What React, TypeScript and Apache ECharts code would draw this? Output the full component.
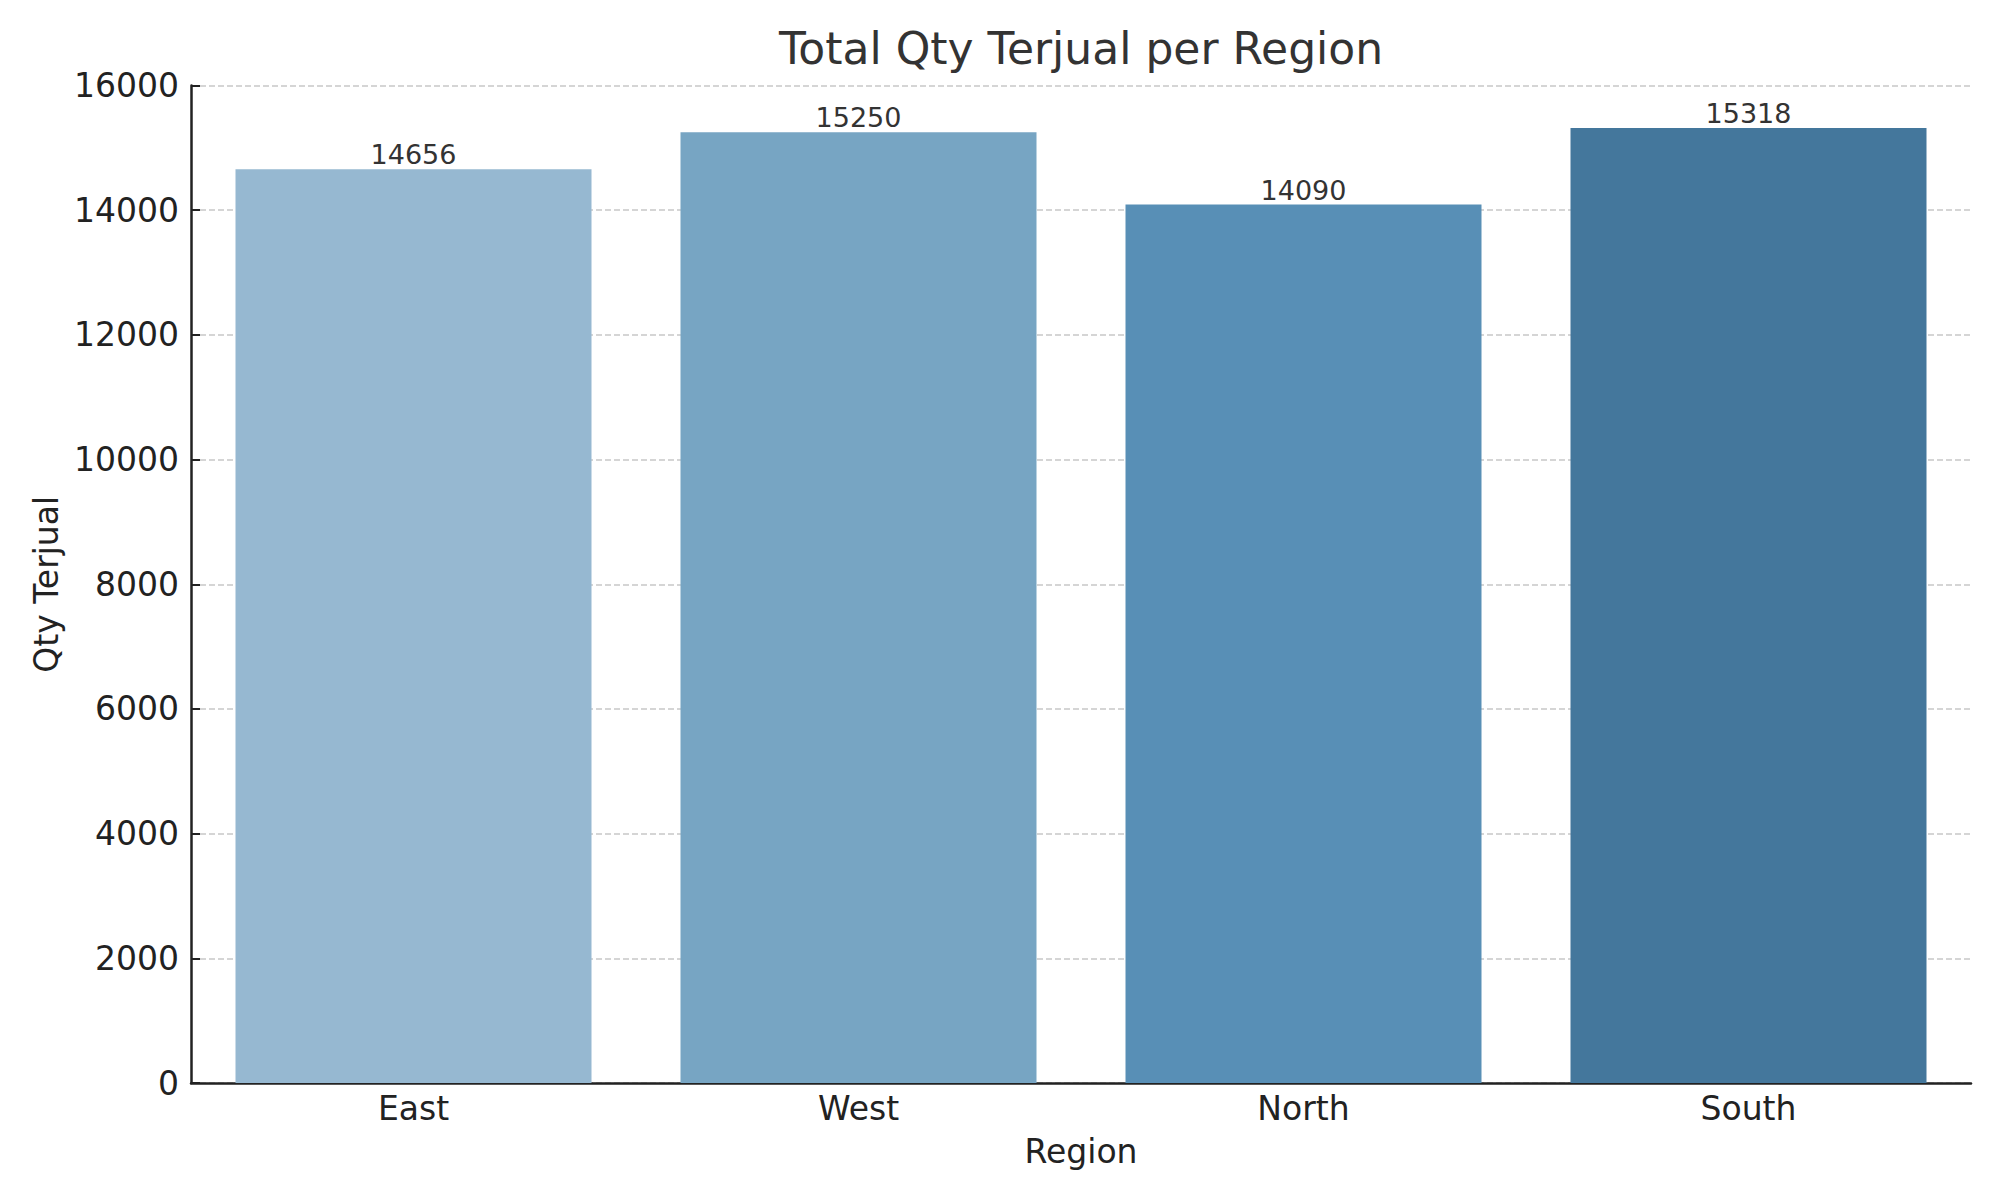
import React, { useEffect, useRef } from "react";
import * as echarts from "echarts";

const categories = ["East", "West", "North", "South"];
const qtyValues = [14656, 15250, 14090, 15318];
const barColors = ["#96b8d1", "#77a5c3", "#588fb6", "#44779c"];
const yTicks = { min: 0, max: 16000, interval: 2000 };

export default function App() {
  const ref = useRef<HTMLDivElement>(null);
  useEffect(() => {
    document.body.style.margin = "0";
    if (!ref.current) return;
    const chart = echarts.init(ref.current, null, { renderer: "svg" });
    const font = "DejaVu Sans";
    chart.setOption({
      animation: false,
      backgroundColor: "#ffffff",
      textStyle: { fontFamily: font },
      title: {
        text: "Total Qty Terjual per Region",
        left: 1081,
        top: 26,
        padding: 0,
        textAlign: "center",
        textStyle: { fontFamily: font, fontSize: 44, fontWeight: "normal", color: "#333333" },
      },
      grid: { left: 191, right: 29, top: 85.5, bottom: 117, containLabel: false },
      xAxis: {
        type: "category",
        data: categories,
        name: "Region",
        nameLocation: "middle",
        nameGap: 52,
        nameTextStyle: { fontFamily: font, fontSize: 33, color: "#222222" },
        axisLine: { show: true, lineStyle: { color: "#222222", width: 2.5 } },
        axisTick: { show: true, inside: true, alignWithLabel: true, length: 9, lineStyle: { color: "#222222", width: 2 } },
        axisLabel: { fontFamily: font, fontSize: 33, color: "#222222", margin: 9 },
        splitLine: { show: false },
      },
      yAxis: {
        type: "value",
        min: yTicks.min,
        max: yTicks.max,
        interval: yTicks.interval,
        name: "Qty Terjual",
        nameLocation: "middle",
        nameGap: 124,
        nameRotate: 90,
        nameTextStyle: { fontFamily: font, fontSize: 33, color: "#222222" },
        axisLine: { show: true, lineStyle: { color: "#222222", width: 2.5 } },
        axisTick: { show: true, inside: true, length: 9, lineStyle: { color: "#222222", width: 2 } },
        axisLabel: { fontFamily: font, fontSize: 33, color: "#222222", margin: 12, formatter: (v: number) => String(v) },
        splitLine: { show: true, lineStyle: { color: "#c8c8c8", width: 1.5, type: [6, 3] } },
      },
      series: [
        {
          type: "bar",
          barCategoryGap: "20%",
          data: qtyValues.map((v, i) => ({ value: v, itemStyle: { color: barColors[i] } })),
          label: {
            show: true,
            position: "top",
            distance: 1,
            fontFamily: font,
            fontSize: 27,
            color: "#333333",
          },
          z: 1,
        },
      ],
    });
    return () => chart.dispose();
  }, []);
  return <div ref={ref} style={{ width: 2000, height: 1200 }} />;
}
